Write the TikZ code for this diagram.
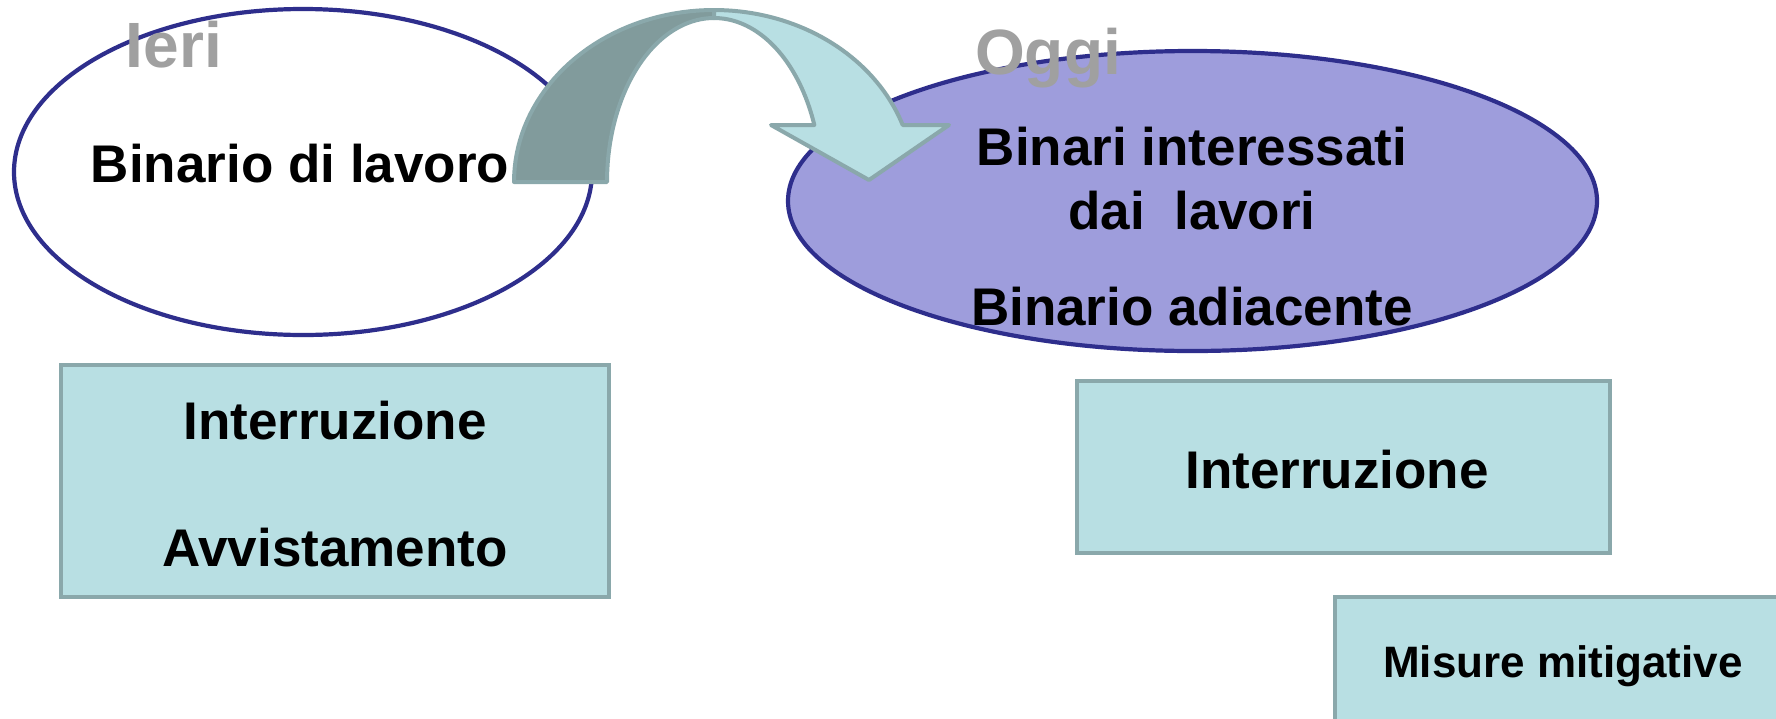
\documentclass[tikz,border=0pt]{standalone}
\usepackage{fontspec}
\setmainfont{Liberation Sans}
\usetikzlibrary{shapes.geometric}
\definecolor{navy}{HTML}{2E2E8C}
\definecolor{lav}{HTML}{9E9DDC}
\definecolor{lteal}{HTML}{B8DFE3}
\definecolor{bteal}{HTML}{8AA8AB}
\definecolor{dteal}{HTML}{819B9C}
\definecolor{gtext}{HTML}{A0A0A0}
\begin{document}
\begin{tikzpicture}[x=0.5pt,y=-0.5pt,
  oval/.style={ellipse, draw=navy, line width=2.1pt, inner sep=0pt},
  box/.style={rectangle, draw=bteal, fill=lteal, line width=1.8pt, inner sep=0pt},
  txt/.style={anchor=base, inner sep=0pt, font=\bfseries\fontsize{26.5}{30}\selectfont},
  small/.style={anchor=base, inner sep=0pt, font=\bfseries\fontsize{22}{26}\selectfont},
  big/.style={anchor=base, inner sep=0pt, text=gtext, font=\bfseries\fontsize{32}{36}\selectfont},
  arr/.style={draw=bteal, line width=2pt, line join=round}]
\useasboundingbox (0,0) rectangle (1776,718);
\clip (0,0) rectangle (1776,718);
\fill[white] (0,0) rectangle (1776,718);
% ovals
\node[oval, fill=white, minimum width=289pt, minimum height=163pt] (ieri) at (303,172) {};
\node[oval, fill=lav, minimum width=404.5pt, minimum height=150pt] (oggi) at (1192.5,201) {};
% boxes
\node[box, minimum width=274pt, minimum height=116pt] (b1) at (335,481) {};
\node[box, minimum width=266.5pt, minimum height=86pt] (b2) at (1343.5,467) {};
\node[box, minimum width=257.5pt, minimum height=91.5pt] (b3) at (1592.5,688.5) {};
% curved arrow: back (dark) part
\filldraw[arr, fill=dteal]
  plot[domain=180:90, samples=40] ({714+200*cos(\x)}, {182-172*sin(\x)})
  -- plot[domain=90:180, samples=40] ({714+107*cos(\x)}, {182-164*sin(\x)})
  -- cycle;
% curved arrow: front (light) part with head
\coordinate (tip) at (869,180);
\filldraw[arr, fill=lteal]
  plot[domain=90:19.35, samples=40] ({714+200*cos(\x)}, {182-172*sin(\x)})
  -- (949,125) -- (tip) -- (771,125) -- (814.3,125)
  -- plot[domain=20.34:90, samples=40] ({714+107*cos(\x)}, {182-164*sin(\x)})
  -- cycle;
% texts
\node[big] (tieri) at (174,67) {Ieri};
\node[big] (toggi) at (1048,74) {Oggi};
\node[txt] (t1) at (300,182) {Binario di lavoro};
\node[txt] (t2) at (1192,165) {Binari interessati};
\node[txt] (t3) at (1192,229) {dai\ \ lavori};
\node[txt] (t4) at (1192,325) {Binario adiacente};
\node[txt] (t5) at (335,439) {Interruzione};
\node[txt] (t6) at (335,566) {Avvistamento};
\node[txt] (t7) at (1337,488) {Interruzione};
\node[small] (t8) at (1563,677) {Misure mitigative};
\end{tikzpicture}
\end{document}
